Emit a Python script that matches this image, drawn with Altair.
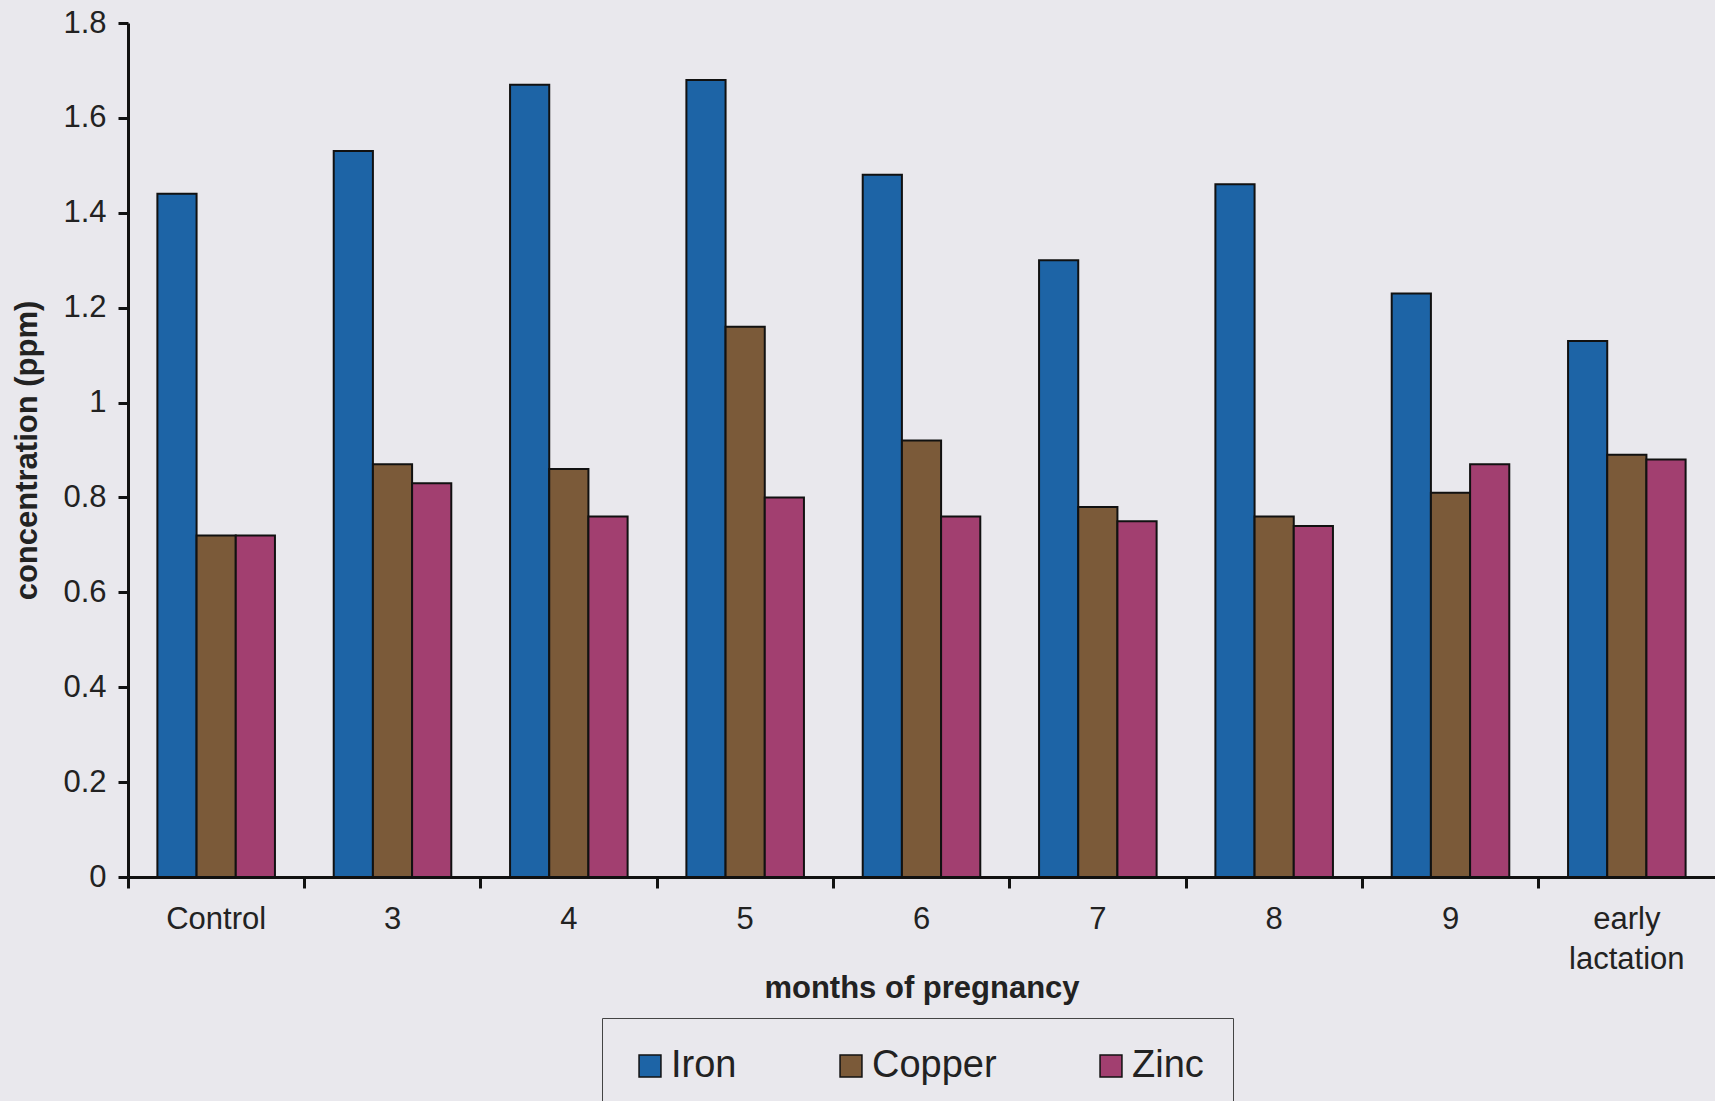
import altair as alt
import pandas as pd

categories = ["Control", "3", "4", "5", "6", "7", "8", "9", "early lactation"]
series = ["Iron", "Copper", "Zinc"]
iron = [1.44, 1.53, 1.67, 1.68, 1.48, 1.30, 1.46, 1.23, 1.13]
copper = [0.72, 0.87, 0.86, 1.16, 0.92, 0.78, 0.76, 0.81, 0.89]
zinc = [0.72, 0.83, 0.76, 0.80, 0.76, 0.75, 0.74, 0.87, 0.88]
y_ticks = [0, 0.2, 0.4, 0.6, 0.8, 1.0, 1.2, 1.4, 1.6, 1.8]
colors = ["#1d64a6", "#7b5a39", "#a23f70"]

rows = []
for name, vals in zip(series, [iron, copper, zinc]):
    for c, v in zip(categories, vals):
        rows.append({"month": c, "metal": name, "value": v})
df = pd.DataFrame(rows)

FONT = "Liberation Sans"

chart = alt.Chart(df).mark_bar(stroke="#111111", strokeWidth=2).encode(
    x=alt.X(
        "month:N",
        sort=categories,
        scale=alt.Scale(paddingInner=0, paddingOuter=0),
        axis=alt.Axis(
            title="months of pregnancy",
            bandPosition=0,
            labelAngle=0,
            labelFont=FONT,
            labelFontSize=31,
            labelColor="#222222",
            labelPadding=16,
            labelLineHeight=40,
            labelBaseline="top",
            labelExpr="datum.value == 'early lactation' ? ['early', 'lactation'] : datum.value",
            domainColor="#111111",
            domainWidth=3,
            tickColor="#111111",
            tickWidth=3,
            tickSize=11,
            titleFont=FONT,
            titleFontSize=31,
            titleFontWeight="bold",
            titleColor="#222222",
            titleY=111,
            titleBaseline="middle",
        ),
    ),
    xOffset=alt.XOffset(
        "metal:N", sort=series, scale=alt.Scale(paddingInner=0, paddingOuter=0.75)
    ),
    y=alt.Y(
        "value:Q",
        scale=alt.Scale(domain=[0, 1.8], nice=False),
        axis=alt.Axis(
            title="concentration (ppm)",
            values=y_ticks,
            format="~g",
            grid=False,
            labelFont=FONT,
            labelFontSize=31,
            labelColor="#222222",
            labelPadding=12,
            domainColor="#111111",
            domainWidth=3,
            tickColor="#111111",
            tickWidth=3,
            tickSize=10,
            titleFont=FONT,
            titleFontSize=31,
            titleFontWeight="bold",
            titleColor="#222222",
            titleX=-101,
            titleBaseline="middle",
        ),
    ),
    color=alt.Color(
        "metal:N",
        sort=series,
        scale=alt.Scale(domain=series, range=colors),
        legend=alt.Legend(
            title=None,
            orient="none",
            legendX=474,
            legendY=995,
            direction="horizontal",
            symbolType="square",
            symbolSize=480,
            symbolStrokeColor="#111111",
            symbolStrokeWidth=1.5,
            labelFont=FONT,
            labelFontSize=38,
            labelColor="#222222",
            labelOffset=2,
            columnPadding=95,
            padding=29,
            strokeColor="#444444",
            fillColor="#e9e8ed",
        ),
    ),
).properties(
    width=1587,
    height=854,
    autosize=alt.AutoSizeParams(type="none"),
    padding={"left": 128, "top": 23, "right": 0, "bottom": 224},
    background="#e9e8ed",
).configure_view(stroke=None).configure_axis(grid=False)

chart.save("out.html", embed_options={"renderer": "svg", "actions": False})
